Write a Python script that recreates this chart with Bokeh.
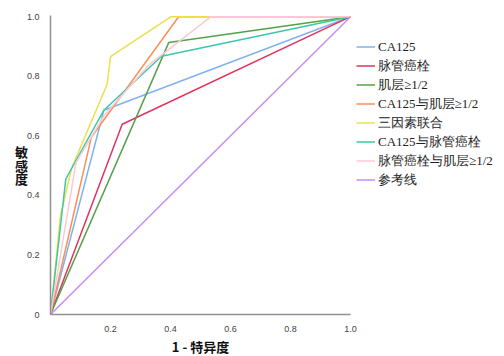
from bokeh.plotting import figure
from bokeh.models import Range1d, Legend, LegendItem, FixedTicker
from bokeh.embed import file_html
from bokeh.resources import INLINE

# ROC curve data (1 - specificity, sensitivity)
names = ["CA125", "脉管癌栓", "肌层≥1/2", "CA125与肌层≥1/2", "三因素联合",
         "CA125与脉管癌栓", "脉管癌栓与肌层≥1/2", "参考线"]
fpr_ca125 = [0, 0.178, 1]
tpr_ca125 = [0, 0.686, 1]
fpr_lvsi = [0, 0.239, 1]
tpr_lvsi = [0, 0.639, 1]
fpr_mi = [0, 0.394, 1]
tpr_mi = [0, 0.913, 1]
fpr_ca_mi = [0, 0.136, 0.427, 1]
tpr_ca_mi = [0, 0.595, 1, 1]
fpr_all = [0, 0.033, 0.07, 0.189, 0.2, 0.402, 1]
tpr_all = [0, 0.33, 0.49, 0.773, 0.866, 1, 1]
fpr_ca_lvsi = [0, 0.051, 0.178, 0.37, 1]
tpr_ca_lvsi = [0, 0.455, 0.686, 0.867, 1]
fpr_lvsi_mi = [0, 0.085, 0.18, 0.33, 0.535, 1]
tpr_lvsi_mi = [0, 0.51, 0.67, 0.84, 1, 1]
fpr_ref = [0, 1]
tpr_ref = [0, 1]

xs = [fpr_ca125, fpr_lvsi, fpr_mi, fpr_ca_mi, fpr_all, fpr_ca_lvsi, fpr_lvsi_mi, fpr_ref]
ys = [tpr_ca125, tpr_lvsi, tpr_mi, tpr_ca_mi, tpr_all, tpr_ca_lvsi, tpr_lvsi_mi, tpr_ref]
colors = ["#7fb2f0", "#e0325f", "#55a04a", "#f99057", "#ebe04b", "#3cc8a8", "#ffc8d8", "#c58cf5"]

ticks = [0, 0.2, 0.4, 0.6, 0.8, 1.0]
tick_labels = ["0", "0.2", "0.4", "0.6", "0.8", "1.0"]

p = figure(frame_width=300, frame_height=299, x_range=Range1d(0, 1), y_range=Range1d(0, 1.004),
           output_backend="svg", toolbar_location=None,
           min_border_left=50, min_border_right=0, min_border_top=15, min_border_bottom=30)
p.outline_line_color = None
p.grid.visible = False
p.background_fill_color = "white"

items = []
for x, y, c, n in zip(xs, ys, colors, names):
    r = p.line(x, y, line_color=c, line_width=1.5)
    items.append(LegendItem(label=n, renderers=[r]))

for ax in (p.xaxis[0], p.yaxis[0]):
    ax.axis_line_color = "#909090"
    ax.axis_line_width = 1.5
    ax.major_tick_line_color = None
    ax.minor_tick_line_color = None
    ax.major_label_text_font = "Liberation Sans"
    ax.major_label_text_font_size = "9px"
    ax.major_label_text_color = "#444444"
    ax.axis_label_text_font = "Noto Sans CJK SC"
    ax.axis_label_text_font_size = "13px"
    ax.axis_label_text_font_style = "bold"
    ax.axis_label_text_color = "#111111"

p.xaxis.ticker = FixedTicker(ticks=ticks[1:])
p.xaxis.major_label_overrides = {t: l for t, l in zip(ticks, tick_labels)}
p.yaxis.ticker = FixedTicker(ticks=ticks)
p.yaxis.major_label_overrides = {t: l for t, l in zip(ticks, tick_labels)}
p.xaxis.major_label_standoff = 5
p.xaxis.axis_label_standoff = 2
p.yaxis.major_label_standoff = 5
p.yaxis.axis_label_standoff = -4
p.xaxis.axis_label = "1 - 特异度"
p.yaxis.axis_label = "敏\n感\n度"
p.yaxis.axis_label_orientation = "horizontal"
p.yaxis.axis_label_text_line_height = 0.72

legend = Legend(items=items, location=(6, 125), padding=0, margin=0,
                border_line_alpha=0, background_fill_alpha=0,
                glyph_width=19, glyph_height=19, label_height=19, label_standoff=3,
                spacing=0, label_text_font_size="13px",
                label_text_font="Liberation Serif",
                label_text_color="#222222")
p.add_layout(legend, "right")

open("out.html", "w").write(file_html(p, INLINE))
